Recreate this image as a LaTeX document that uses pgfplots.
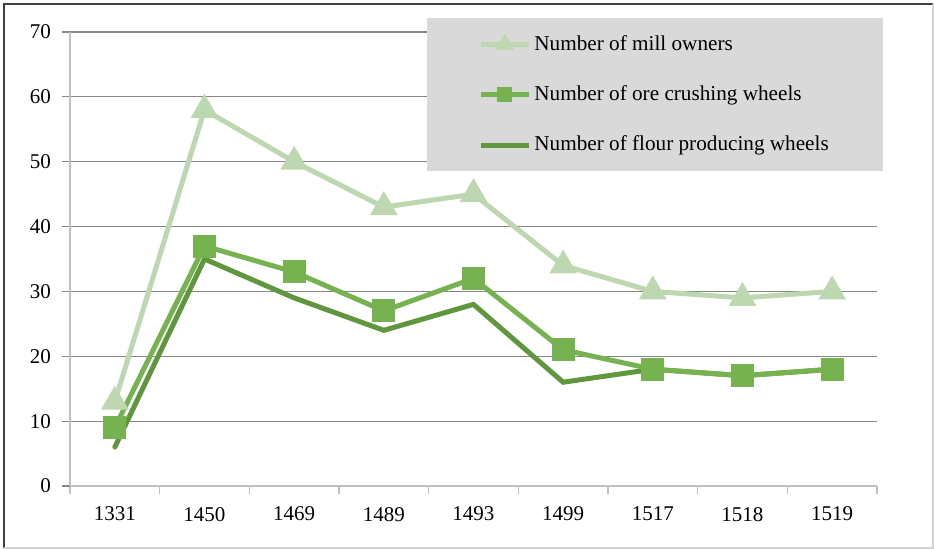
\documentclass[border=0pt]{standalone}
\usepackage{pgfplots}
\pgfplotsset{compat=1.18}
\usepackage{fontspec}
\setmainfont{Liberation Serif}
\definecolor{millc}{RGB}{189,215,176}
\definecolor{orec}{RGB}{119,178,80}
\definecolor{flourc}{RGB}{96,150,62}
\definecolor{gridc}{RGB}{134,134,134}
\definecolor{axc}{RGB}{191,191,191}
\definecolor{legbg}{RGB}{217,217,217}
\begin{document}
\begin{tikzpicture}
\useasboundingbox (0,0) rectangle (467pt,274.5pt);
\draw[color={rgb,255:red,64;green,64;blue,64},line width=0.6pt] (2pt,0.5pt) -- (2pt,272.5pt) -- (466.5pt,272.5pt);
\draw[color={rgb,255:red,210;green,210;blue,210},line width=0.6pt] (2pt,0.5pt) -- (466.5pt,0.5pt) -- (466.5pt,272.5pt);
\begin{axis}[
  at={(35pt,31.5pt)}, anchor=south west,
  scale only axis, width=403.5pt, height=227pt,
  xmin=-0.5, xmax=8.5, ymin=0, ymax=70,
  axis x line=bottom, axis y line=left,
  axis line style={draw=axc, line width=0.7pt, -},
  xtick={0,...,8},
  xticklabels={1331,1450,1469,1489,1493,1499,1517,1518,1519},
  minor xtick={-0.5,0.5,...,8.5},
  major x tick style={draw=none},
  minor x tick style={draw=axc, line width=0.7pt},
  minor tick length=4pt,
  ytick={0,10,...,70},
  major y tick style={draw=gridc, line width=0.6pt},
  major tick length=4pt,
  tick align=outside,
  ymajorgrids, grid style={draw=gridc, line width=0.6pt},
  ticklabel style={font=\fontsize{10.5}{12}\selectfont, text=black},
  xticklabel style={yshift=-3pt},
  yticklabel style={xshift=-2pt},
  /pgf/number format/assume math mode=true,
  legend style={at={(0.4424,1.0308)}, anchor=north west, draw=none, fill=legbg,
    font=\fontsize{10.6}{12}\selectfont, inner xsep=25.5pt, inner ysep=6.5pt, row sep=12.2pt,
    nodes={inner xsep=1.5pt},
    /tikz/every even column/.append style={column sep=0pt}},
  legend cell align=left,
  legend image code/.code={\draw[mark repeat=2,mark phase=2] plot coordinates {(0pt,0pt) (12pt,0pt) (24pt,0pt)};},
]
\addlegendimage{millc, line width=2.5pt, mark=triangle*, mark size=3pt, mark options={solid}}
\addlegendentry{Number of mill owners}
\addlegendimage{orec, line width=2.5pt, mark=square*, mark size=2.5pt}
\addlegendentry{Number of ore crushing wheels}
\addlegendimage{flourc, line width=2.5pt}
\addlegendentry{Number of flour producing wheels}

\addplot[forget plot, millc, line width=2.5pt, mark=triangle*, mark size=5.5pt] coordinates {
(0,13) (1,58) (2,50) (3,43) (4,45) (5,34) (6,30) (7,29) (8,30)};
\addplot[forget plot, flourc, line width=2.5pt, line cap=round] coordinates {
(0,6) (1,35) (2,29) (3,24) (4,28) (5,16) (6,18) (7,17) (8,18)};
\addplot[forget plot, orec, line width=2.5pt, mark=square*, mark size=4.5pt] coordinates {
(0,9) (1,37) (2,33) (3,27) (4,32) (5,21) (6,18) (7,17) (8,18)};
\end{axis}
\end{tikzpicture}
\end{document}
